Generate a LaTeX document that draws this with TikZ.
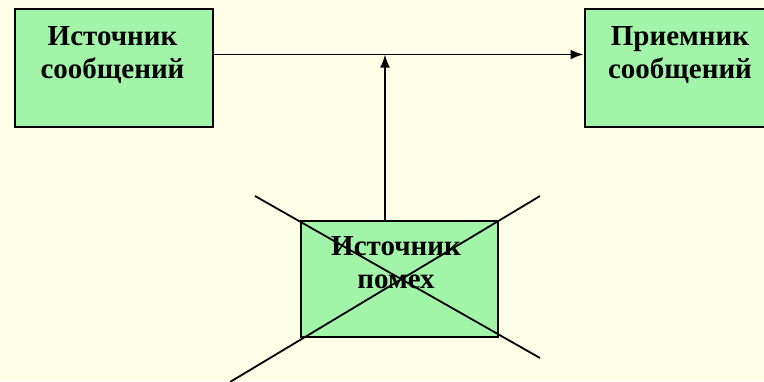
\documentclass[tikz,border=0pt]{standalone}
\usepackage{fontspec}
\setmainfont{Liberation Serif}
\usetikzlibrary{arrows.meta}
\definecolor{bgc}{RGB}{255,255,232}
\definecolor{boxg}{RGB}{162,245,168}
\tikzset{
  box/.style={draw=black, line width=2.2pt, fill=boxg, minimum width=#1, minimum height=118pt, inner sep=0pt, anchor=north west},
  lbl/.style={font=\fontsize{29}{33}\selectfont\bfseries, anchor=base, inner sep=0pt},
  conn/.style={line width=1.8pt, -{Latex[length=13pt,width=10pt]}},
  crossl/.style={line width=1.8pt}
}
\begin{document}
\begin{tikzpicture}[x=1pt,y=-1pt]
\useasboundingbox (0,0) rectangle (764,381);
\clip (0,0) rectangle (764,381);
\fill[bgc] (0,0) rectangle (764,381);
% boxes
\node[box=198pt] (src) at (13.5,7.5) {};
\node[box=194pt] (dst) at (583.5,7.5) {};
\node[box=197pt, minimum height=116pt] (noise) at (299.5,219.5) {};
% labels
\node[lbl] (src1) at (112.5,45) {Источник};
\node[lbl] (src2) at (112.5,78) {сообщений};
\node[lbl] (dst1) at (680,45) {Приемник};
\node[lbl] (dst2) at (680,78) {сообщений};
% connectors
\coordinate (j) at (385,54.5);
\draw[conn] (src.east |- j) -- (dst.west |- j);
\draw[conn] (noise.north -| j) -- (j);
% noise label
\node[lbl] (n1) at (396,255) {Источник};
\node[lbl] (n2) at (396,288) {помех};
% cross
\coordinate (c1) at (255,196);
\coordinate (c2) at (540,358);
\coordinate (c3) at (540,196);
\coordinate (c4) at (230,382);
\draw[crossl] (c1) -- (c2);
\draw[crossl] (c3) -- (c4);
\end{tikzpicture}
\end{document}
